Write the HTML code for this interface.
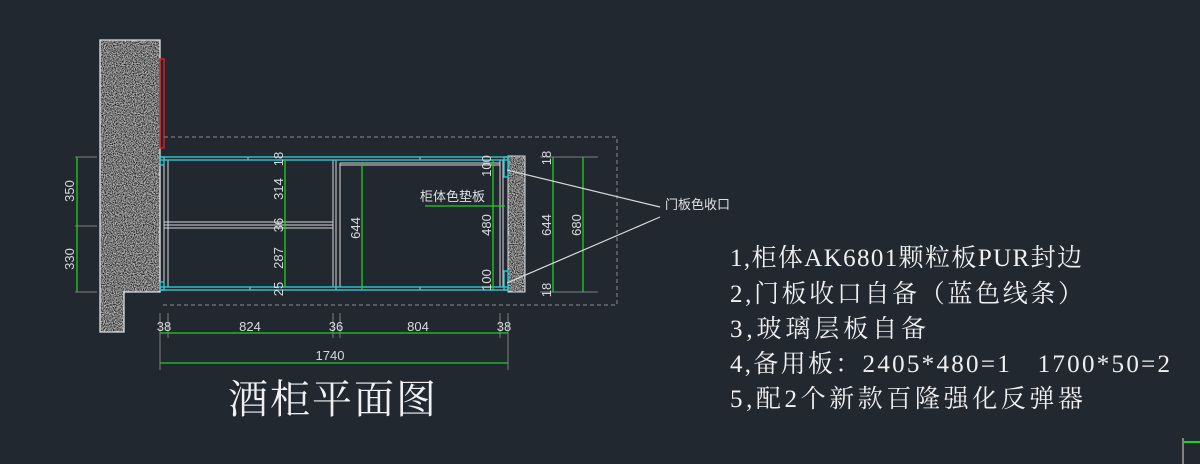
<!DOCTYPE html>
<html><head><meta charset="utf-8"><style>
html,body{margin:0;padding:0;background:#212830;}
svg{display:block}
</style></head><body>
<svg width="1200" height="464" viewBox="0 0 1200 464" xmlns="http://www.w3.org/2000/svg">
<defs>
<filter id="noise" x="0" y="0" width="100%" height="100%">
<feTurbulence type="fractalNoise" baseFrequency="0.9" numOctaves="2" seed="3"/>
<feColorMatrix type="matrix" values="0 0 0 0 0  0 0 0 0 0  0 0 0 0 0  0 0 0 -2.2 1.45"/>
<feComposite in2="SourceGraphic" operator="in"/>
</filter>
</defs>
<rect width="1200" height="464" fill="#212830"/>

<!-- wall -->
<path d="M100,40 H160 V292 H124 V332 H100 Z" fill="#b8b8b8"/>
<path d="M100,40 H160 V292 H124 V332 H100 Z" fill="#1e1e1e" filter="url(#noise)"/>
<path d="M100,40 H160 V292 H124 V332 H100 Z" fill="none" stroke="#e0e0e0" stroke-width="1.3"/>
<rect x="160" y="59" width="4" height="89" fill="none" stroke="#d02020" stroke-width="1.5"/>

<!-- right stone -->
<rect x="508" y="156" width="17" height="136" fill="#b8b8b8"/>
<rect x="508" y="156" width="17" height="136" fill="#1e1e1e" filter="url(#noise)"/>
<rect x="508" y="156" width="17" height="136" fill="none" stroke="#e0e0e0" stroke-width="1"/>

<!-- dashed outline -->
<path d="M164,137 H617 V305 H160" fill="none" stroke="#8a8a8a" stroke-width="1" stroke-dasharray="4,3"/>

<!-- cabinet white inner lines -->
<g stroke="#d8d8d8" stroke-width="1" fill="none">
<line x1="164" y1="160" x2="164" y2="287"/>
<line x1="168" y1="160" x2="168" y2="287"/>
<line x1="333" y1="160" x2="333" y2="287"/>
<line x1="336" y1="160" x2="336" y2="287"/>
<line x1="340" y1="163" x2="340" y2="287"/>
<line x1="164" y1="222" x2="333" y2="222"/>
<line x1="164" y1="225" x2="333" y2="225"/>
<line x1="164" y1="228" x2="333" y2="228"/>
<line x1="340" y1="163" x2="500" y2="163"/>
<line x1="340" y1="165" x2="500" y2="165"/>
<line x1="500" y1="160" x2="500" y2="287"/>
<line x1="503" y1="160" x2="503" y2="287"/>
<line x1="248" y1="157" x2="248" y2="160"/>
<line x1="250" y1="287" x2="250" y2="290"/>
<line x1="420" y1="287" x2="420" y2="290"/>
<line x1="420" y1="157" x2="420" y2="160"/>
</g>
<!-- cyan frame -->
<g stroke="#2ec8d0" stroke-width="1.4" fill="none">
<rect x="160" y="157" width="348" height="3"/>
<rect x="160" y="287" width="348" height="3"/>
<rect x="160" y="157" width="4" height="8"/>
<rect x="160" y="282" width="4" height="8"/>
<rect x="504" y="157" width="4" height="20"/>
<rect x="504" y="271" width="4" height="19"/>
<line x1="336" y1="287" x2="336" y2="290"/>
</g>

<!-- green dims -->
<g stroke="#20d020" stroke-width="1.3" fill="none">
<line x1="77" y1="157" x2="77" y2="292"/>
<line x1="285" y1="160" x2="285" y2="287"/>
<line x1="362" y1="164" x2="362" y2="290"/>
<line x1="493" y1="160" x2="493" y2="290"/>
<line x1="553" y1="157" x2="553" y2="292"/>
<line x1="583" y1="157" x2="583" y2="292"/>
<line x1="160" y1="333" x2="508" y2="333"/>
<line x1="160" y1="363" x2="508" y2="363"/>
<line x1="425" y1="206" x2="505" y2="206"/>
<line x1="1184" y1="442" x2="1200" y2="442" stroke-width="2"/>
</g>
<!-- grey extension lines -->
<g stroke="#808080" stroke-width="1">
<line x1="75" y1="157" x2="97" y2="157"/>
<line x1="75" y1="226" x2="97" y2="226"/>
<line x1="75" y1="292" x2="97" y2="292"/>
<line x1="540" y1="157" x2="565" y2="157"/>
<line x1="540" y1="292" x2="565" y2="292"/>
<line x1="565" y1="157" x2="598" y2="157"/>
<line x1="565" y1="292" x2="598" y2="292"/>
<line x1="160" y1="313" x2="160" y2="370"/>
<line x1="168" y1="313" x2="168" y2="338"/>
<line x1="333" y1="313" x2="333" y2="338"/>
<line x1="340" y1="313" x2="340" y2="338"/>
<line x1="500" y1="313" x2="500" y2="338"/>
<line x1="508" y1="313" x2="508" y2="370"/>
<line x1="1183" y1="438" x2="1183" y2="464" stroke-width="2"/>
</g>
<!-- leader lines -->
<g stroke="#d8d8d8" stroke-width="1.2">
<line x1="507" y1="170" x2="660" y2="207"/>
<line x1="507" y1="283" x2="660" y2="217"/>
</g>

<g font-family="Liberation Sans, DejaVu Sans, sans-serif" font-size="13" fill="#d8d8d8">
<g text-anchor="middle">
<text transform="translate(74,191) rotate(-90)">350</text>
<text transform="translate(74,259) rotate(-90)">330</text>
<text transform="translate(283,159) rotate(-90)">18</text>
<text transform="translate(283,189) rotate(-90)">314</text>
<text transform="translate(283,225) rotate(-90)">36</text>
<text transform="translate(283,258) rotate(-90)">287</text>
<text transform="translate(283,289) rotate(-90)">25</text>
<text transform="translate(360,228) rotate(-90)">644</text>
<text transform="translate(491,166) rotate(-90)">100</text>
<text transform="translate(491,225) rotate(-90)">480</text>
<text transform="translate(491,280) rotate(-90)">100</text>
<text transform="translate(551,158) rotate(-90)">18</text>
<text transform="translate(551,225) rotate(-90)">644</text>
<text transform="translate(551,290) rotate(-90)">18</text>
<text transform="translate(581,225) rotate(-90)">680</text>
<text x="164" y="331">38</text>
<text x="250" y="331">824</text>
<text x="336" y="331">36</text>
<text x="418" y="331">804</text>
<text x="504" y="331">38</text>
<text x="330" y="360">1740</text>
</g>
</g>
<text x="420" y="201" font-family="Liberation Sans, Noto Sans CJK SC, sans-serif" font-size="13" fill="#e0e0e0">柜体色垫板</text>
<text x="665" y="209" font-family="Liberation Sans, Noto Sans CJK SC, sans-serif" font-size="13" fill="#e0e0e0">门板色收口</text>
<text x="228" y="413" font-family="Liberation Serif, Noto Serif CJK SC, serif" font-size="40" fill="#f0f0f0" textLength="208">酒柜平面图</text>

<g font-family="Liberation Serif, Noto Serif CJK SC, serif" font-size="25" fill="#f0f0f0">
<text x="730" y="266" textLength="352">1,柜体AK6801颗粒板PUR封边</text>
<text x="730" y="302" textLength="353">2,门板收口自备（蓝色线条）</text>
<text x="730" y="337" textLength="196">3,玻璃层板自备</text>
<text x="730" y="372" textLength="440" xml:space="preserve">4,备用板：2405*480=1   1700*50=2</text>
<text x="730" y="407" textLength="353">5,配2个新款百隆强化反弹器</text>
</g>
</svg>
</body></html>
